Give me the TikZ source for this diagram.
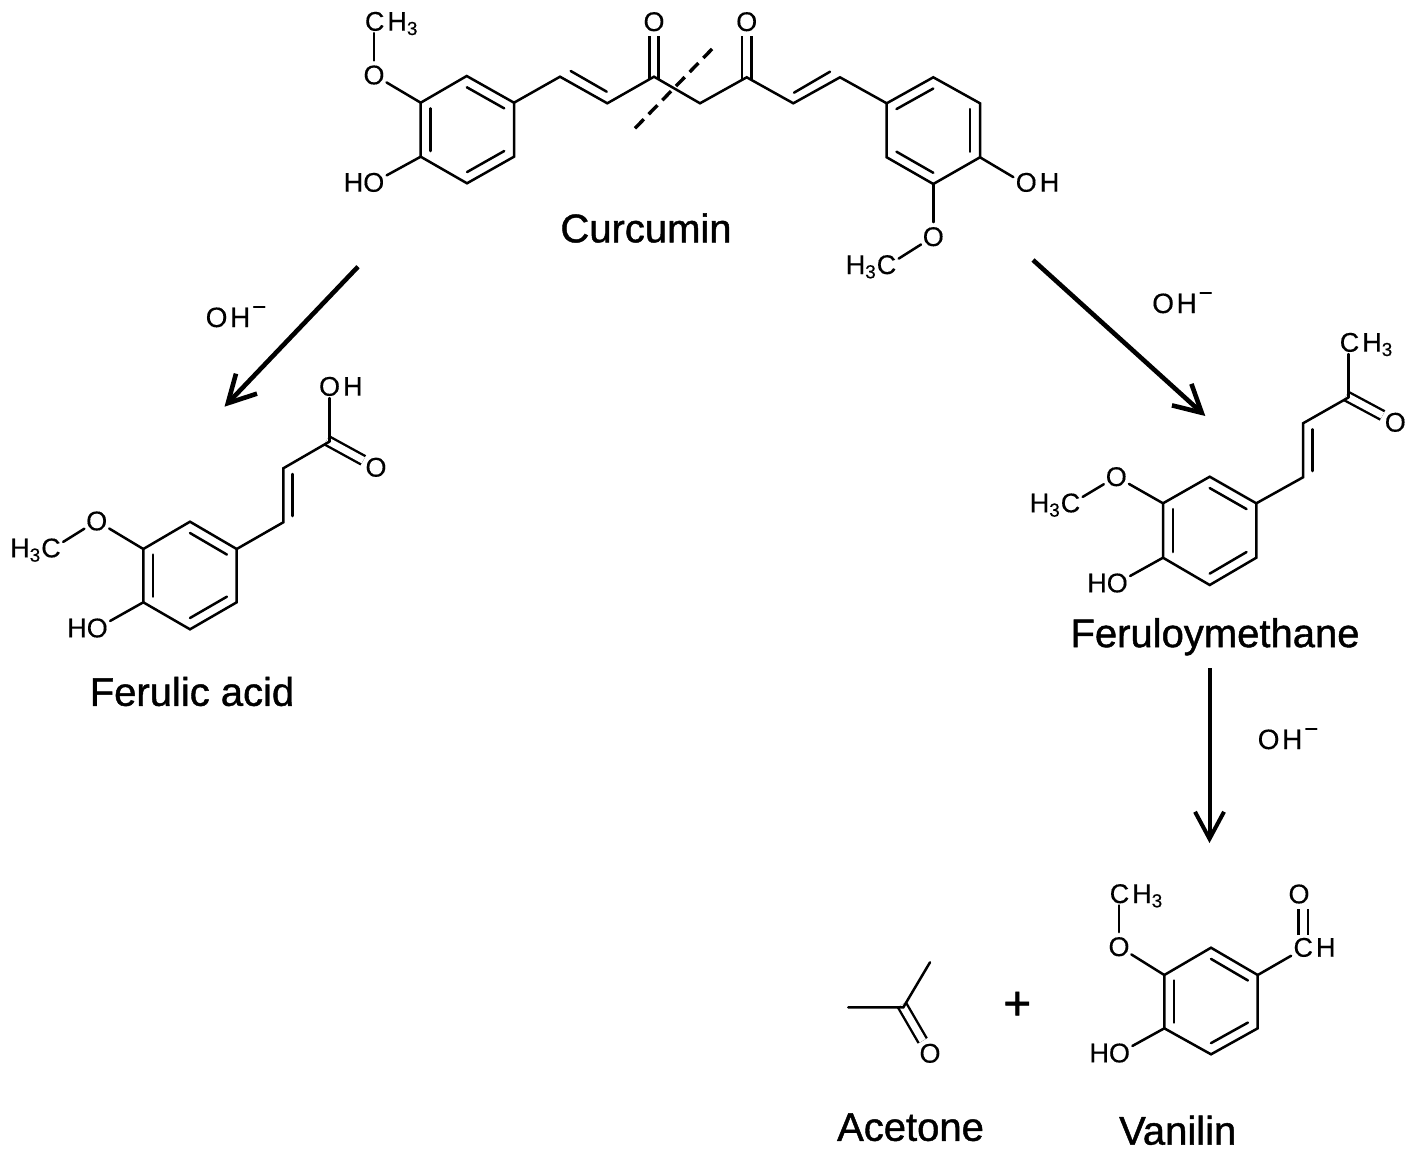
\documentclass[tikz,border=0pt]{standalone}
\usepackage{fontspec}
\setmainfont{Liberation Sans}
\newfontfamily\atomfont[FakeBold=.3]{Liberation Sans}
\newfontfamily\namefont[FakeBold=1.1]{Liberation Sans}
\usetikzlibrary{arrows.meta}
\usetikzlibrary{calc}
\newcommand{\ringbond}[3]{\draw [bonds] ($(#1)!.21!(#3)$) -- ($(#2)!.21!(#3)$);}
\newcommand{\minuscharge}{\kern1pt\raisebox{6pt}{\fontsize{12}{12}\selectfont −}}
\begin{document}
\begin{tikzpicture}[x=.5pt, y=-.5pt,
  bonds/.style={line width=1.25pt, line cap=round, line join=miter},
  dbl/.style={double, line width=1.2pt, double distance=3.45pt, shorten <=-1.5pt},
  paths/.style={->, line width=2.3pt, >={Straight Barb[length=13.5pt, width=14.5pt]}},
  cut/.style={line width=1.7pt, dash pattern=on 6.3pt off 3.5pt},
  oxy/.style={circle, inner sep=0pt, minimum size=13pt, font=\atomfont\fontsize{13.5}{13.5}\selectfont},
  atoms/.style={inner sep=1pt, text height=9pt, text depth=0pt, font=\atomfont\fontsize{13.5}{13.5}\selectfont},
  bases/.style={atoms, font=\atomfont\fontsize{14}{14}\selectfont},
  names/.style={inner sep=0pt, text height=13.8pt, text depth=0pt, font=\namefont\fontsize{20}{20}\selectfont}]

 \useasboundingbox (0,0) rectangle (1417,1157);

 % curcumin
 \coordinate (cur_a_1) at (466.7,76);
 \coordinate (cur_a_2) at (514,102.7);
 \coordinate (cur_a_3) at (514,156.7);
 \coordinate (cur_a_4) at (467,183.3);
 \coordinate (cur_a_5) at (420.7,156.7);
 \coordinate (cur_a_6) at (420.7,102.7);
 \coordinate (cur_a_m) at (467.3,129.7);

 \coordinate (cur_b_1) at (933.3,77.3);
 \coordinate (cur_b_2) at (980,103.3);
 \coordinate (cur_b_3) at (980,157.3);
 \coordinate (cur_b_4) at (933.3,184);
 \coordinate (cur_b_5) at (886.7,157.3);
 \coordinate (cur_b_6) at (886.7,103.3);
 \coordinate (cur_b_m) at (933.3,130.7);

 \coordinate (cur_c_1) at (560,76.7);
 \coordinate (cur_c_2) at (607.3,103.3);
 \coordinate (cur_c_3) at (654,76.7);
 \coordinate (cur_c_4) at (700,103.3);
 \coordinate (cur_c_5) at (746.7,77.3);
 \coordinate (cur_c_6) at (793.3,103.3);
 \coordinate (cur_c_7) at (840,77.3);

 \coordinate (cur_in_1) at (570.7,71);
 \coordinate (cur_in_2) at (606.7,91.7);
 \coordinate (cur_in_3) at (794,92.7);
 \coordinate (cur_in_4) at (830,71.7);
 \coordinate (cut_1) at (635,128.3);
 \coordinate (cut_2) at (712.7,48.3);

 \node [oxy] (cur_o_1) at (654,21.7) {O};
 \node [oxy] (cur_o_2) at (746.7,21.7) {O};
 \node [oxy] (cur_o_3) at (374,75) {O};
 \node [oxy] (cur_o_4) at (933.3,236.7) {O};
 \node [atoms] (cur_ch3) at (391.7,21.7) {C\kern1.5pt H\textsubscript{3}};
 \node [atoms] (cur_ho) at (364,182.7) {HO};
 \node [atoms] (cur_oh) at (1037.5,182.7) {O\kern1.5pt H};
 \node [atoms] (cur_h3c) at (871,265) {H\textsubscript{3}C};
 \node [names] (curcumin) at (646,228.5) {Curcumin};

 \draw [dbl] (cur_c_3) -- (cur_c_3 |- cur_o_1.south);
 \draw [dbl] (cur_c_5) -- (cur_c_5 |- cur_o_2.south);
 \draw [bonds] (cur_a_1) -- (cur_a_2) -- (cur_a_3) -- (cur_a_4) -- (cur_a_5) -- (cur_a_6) -- cycle;
 \draw [bonds] (cur_b_1) -- (cur_b_2) -- (cur_b_3) -- (cur_b_4) -- (cur_b_5) -- (cur_b_6) -- cycle;
 \ringbond{cur_a_1}{cur_a_2}{cur_a_m}
 \ringbond{cur_a_3}{cur_a_4}{cur_a_m}
 \ringbond{cur_a_5}{cur_a_6}{cur_a_m}
 \ringbond{cur_b_6}{cur_b_1}{cur_b_m}
 \ringbond{cur_b_2}{cur_b_3}{cur_b_m}
 \ringbond{cur_b_4}{cur_b_5}{cur_b_m}
 \draw [bonds] (cur_a_2) -- (cur_c_1) -- (cur_c_2) -- (cur_c_3) -- (cur_c_4) -- (cur_c_5) -- (cur_c_6) -- (cur_c_7) -- (cur_b_6);
 \draw [bonds] (cur_in_1) -- (cur_in_2);
 \draw [bonds] (cur_in_3) -- (cur_in_4);
 \draw [cut] (cut_1) -- (cut_2);
 \draw [bonds] (cur_a_6) -- (cur_o_3);
 \draw [bonds] (cur_o_3) -- (cur_o_3 |- cur_ch3.south);
 \draw [bonds] (cur_a_5) -- (cur_ho.18);
 \draw [bonds] (cur_b_3) -- (cur_oh.167);
 \draw [bonds] (cur_b_4) -- (cur_o_4);
 \draw [bonds] (cur_o_4) -- (cur_h3c.13);

 % ferulic acid
 \coordinate (fer_a_1) at (190,521.7);
 \coordinate (fer_a_2) at (236.7,549);
 \coordinate (fer_a_3) at (236.7,602.3);
 \coordinate (fer_a_4) at (190,629.3);
 \coordinate (fer_a_5) at (143.3,602.3);
 \coordinate (fer_a_6) at (143.3,549);
 \coordinate (fer_a_m) at (190,575.5);
 \coordinate (fer_c_1) at (283.3,522.3);
 \coordinate (fer_c_2) at (283.3,468.3);
 \coordinate (fer_c_3) at (329.3,441.7);
 \coordinate (fer_in_1) at (292.3,474);
 \coordinate (fer_in_2) at (292.3,516);

 \node [oxy] (fer_o_1) at (376,467.3) {O};
 \node [oxy] (fer_o_2) at (96.7,521) {O};
 \node [atoms] (fer_oh) at (340.8,386.7) {O\kern1.5pt H};
 \node [atoms] (fer_h3c) at (35.5,548.3) {H\textsubscript{3}C};
 \node [atoms] (fer_ho) at (87.5,628.3) {HO};
 \node [names] (ferulic) at (192,692) {Ferulic acid};

 \draw [dbl] (fer_c_3) -- (fer_o_1);
 \draw [bonds] (fer_a_1) -- (fer_a_2) -- (fer_a_3) -- (fer_a_4) -- (fer_a_5) -- (fer_a_6) -- cycle;
 \ringbond{fer_a_1}{fer_a_2}{fer_a_m}
 \ringbond{fer_a_3}{fer_a_4}{fer_a_m}
 \ringbond{fer_a_5}{fer_a_6}{fer_a_m}
 \draw [bonds] (fer_a_2) -- (fer_c_1) -- (fer_c_2) -- (fer_c_3);
 \draw [bonds] (fer_in_1) -- (fer_in_2);
 \draw [bonds] (fer_c_3) -- (fer_c_3 |- fer_oh.south);
 \draw [bonds] (fer_a_6) -- (fer_o_2);
 \draw [bonds] (fer_o_2) -- (fer_h3c.13);
 \draw [bonds] (fer_a_5) -- (fer_ho.18);

 % feruloymethane
 \coordinate (met_a_1) at (1209.7,476.7);
 \coordinate (met_a_2) at (1256.3,503.3);
 \coordinate (met_a_3) at (1256.3,557.7);
 \coordinate (met_a_4) at (1209.7,585);
 \coordinate (met_a_5) at (1163,557.7);
 \coordinate (met_a_6) at (1163,503.3);
 \coordinate (met_a_m) at (1209.7,530.8);
 \coordinate (met_c_1) at (1303,477.3);
 \coordinate (met_c_2) at (1303,423.3);
 \coordinate (met_c_3) at (1348.7,397.3);
 \coordinate (met_in_1) at (1312.7,429.3);
 \coordinate (met_in_2) at (1312.7,471);

 \node [oxy] (met_o_1) at (1395.3,422.3) {O};
 \node [oxy] (met_o_2) at (1116.3,476.7) {O};
 \node [atoms] (met_ch3) at (1366.5,342.7) {C\kern1.5pt H\textsubscript{3}};
 \node [atoms] (met_h3c) at (1055,503.3) {H\textsubscript{3}C};
 \node [atoms] (met_ho) at (1107.5,583.3) {HO};
 \node [names] (feruloy) at (1215,633.3) {Feruloymethane};

 \draw [dbl] (met_c_3) -- (met_o_1);
 \draw [bonds] (met_a_1) -- (met_a_2) -- (met_a_3) -- (met_a_4) -- (met_a_5) -- (met_a_6) -- cycle;
 \ringbond{met_a_1}{met_a_2}{met_a_m}
 \ringbond{met_a_3}{met_a_4}{met_a_m}
 \ringbond{met_a_5}{met_a_6}{met_a_m}
 \draw [bonds] (met_a_2) -- (met_c_1) -- (met_c_2) -- (met_c_3);
 \draw [bonds] (met_in_1) -- (met_in_2);
 \draw [bonds] (met_c_3) -- (met_c_3 |- met_ch3.south);
 \draw [bonds] (met_a_6) -- (met_o_2);
 \draw [bonds] (met_o_2) -- (met_h3c.13);
 \draw [bonds] (met_a_5) -- (met_ho.18);

 % vanilin
 \coordinate (van_a_1) at (1211,947.7);
 \coordinate (van_a_2) at (1257.7,975);
 \coordinate (van_a_3) at (1257.7,1028.3);
 \coordinate (van_a_4) at (1211,1054.3);
 \coordinate (van_a_5) at (1164.3,1028.3);
 \coordinate (van_a_6) at (1164.3,975);
 \coordinate (van_a_m) at (1211,1001);
 \coordinate (van_c_1) at (1303.3,935);

 \node [oxy] (van_o_1) at (1299,894) {O};
 \node [oxy] (van_o_2) at (1119,946.7) {O};
 \node [atoms] (van_ch) at (1314.5,947.7) {C\kern1.5pt H};
 \node [atoms] (van_ch3) at (1136.5,894) {C\kern1.5pt H\textsubscript{3}};
 \node [atoms] (van_ho) at (1109.7,1053.3) {HO};
 \node [names] (vanilin) at (1177.7,1130.8) {Vanilin};

 \draw [dbl, shorten <=0pt] (van_c_1) -- (van_c_1 |- van_o_1.south);
 \draw [bonds] (van_a_1) -- (van_a_2) -- (van_a_3) -- (van_a_4) -- (van_a_5) -- (van_a_6) -- cycle;
 \ringbond{van_a_1}{van_a_2}{van_a_m}
 \ringbond{van_a_3}{van_a_4}{van_a_m}
 \ringbond{van_a_5}{van_a_6}{van_a_m}
 \draw [bonds] (van_a_2) -- (van_ch.199);
 \draw [bonds] (van_a_6) -- (van_o_2);
 \draw [bonds] (van_o_2) -- (van_o_2 |- van_ch3.south);
 \draw [bonds] (van_a_5) -- (van_ho.18);

 % acetone
 \coordinate (ace_1) at (848.3,1007.3);
 \coordinate (ace_2) at (903.3,1007.3);
 \coordinate (ace_3) at (930,962.3);

 \node [oxy] (ace_o) at (930,1053.3) {O};
 \node [names] (acetone) at (910.5,1127) {Acetone};
 \node [inner sep=0pt, font=\namefont\fontsize{24}{24}\selectfont] (plus) at (1017.3,1005.7) {+};

 \draw [dbl] (ace_2) -- (ace_o);
 \draw [bonds] (ace_1) -- (ace_2) -- (ace_3);

 % reactions
 \coordinate (react_1) at (358,266.7);
 \coordinate (react_2) at (224.5,406.7);
 \coordinate (react_3) at (1033,260);
 \coordinate (react_4) at (1205.3,416);
 \coordinate (react_5) at (1209.5,668);
 \coordinate (react_6) at (1209.5,843);

 \node [bases] (base_1) at (236,318) {O\kern1.3pt H\minuscharge};
 \node [bases] (base_2) at (1182.5,304) {O\kern1.3pt H\minuscharge};
 \node [bases] (base_3) at (1288,740) {O\kern1.3pt H\minuscharge};

 \draw [paths] (react_1) -- (react_2);
 \draw [paths] (react_3) -- (react_4);
 \draw [paths, line width=2pt] (react_5) -- (react_6);

\end{tikzpicture}
\end{document}
